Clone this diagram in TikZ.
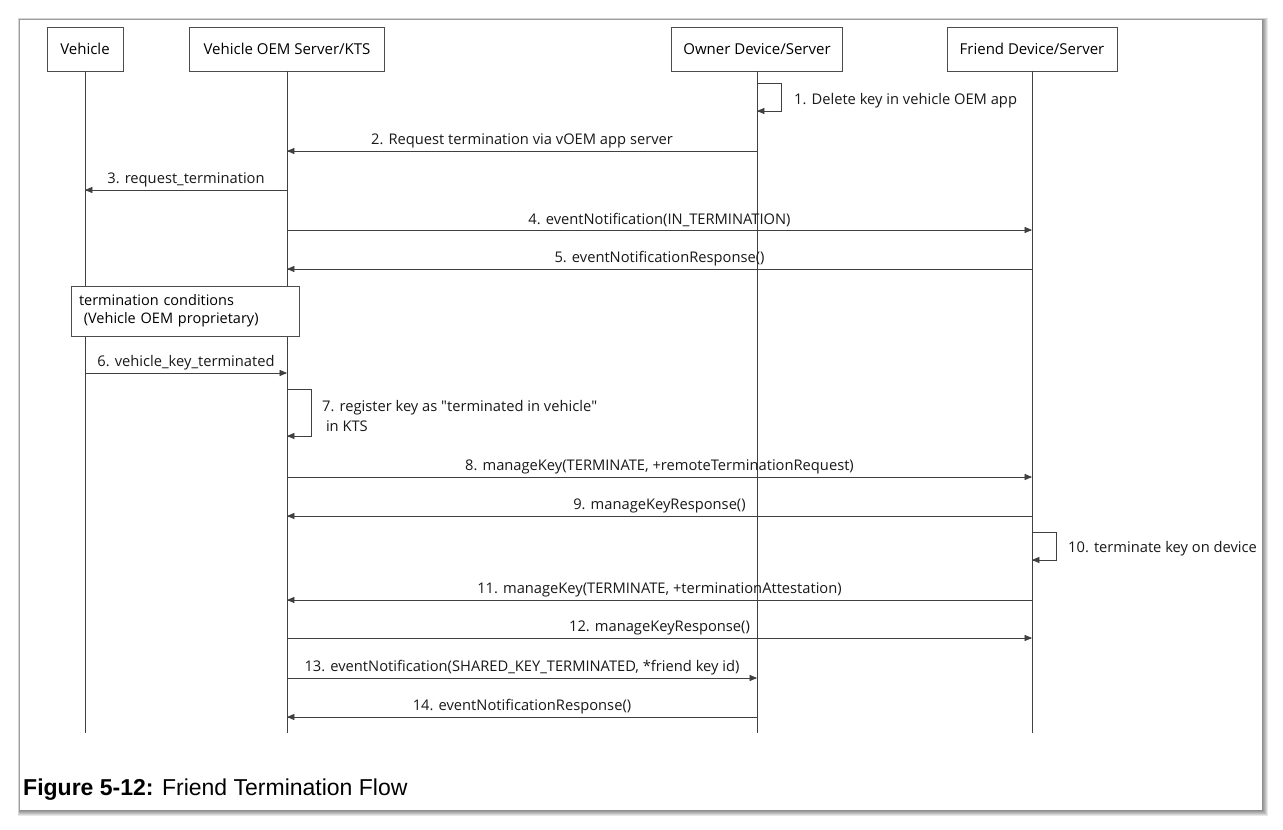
\documentclass[tikz,border=0pt]{standalone}
\usepackage{fontspec}
\setmainfont{Open Sans}
\newfontfamily\capfont{Liberation Sans}
\usetikzlibrary{arrows}

\begin{document}
\begin{tikzpicture}[x=1pt,y=-1pt,
  actor/.style={draw=black!70,fill=white,minimum height=44pt,font=\fontsize{15}{17}\selectfont},
  life/.style={black!75,line width=0.9pt},
  msg/.style={->,>=triangle 45,black!75,line width=0.7pt},
  lbl/.style={font=\fontsize{14.7}{17}\selectfont,text=black!90,inner sep=1pt},
  note/.style={draw=black!70,fill=white,minimum width=228pt,minimum height=50pt,
    text width=212pt,align=left,inner sep=8pt,font=\fontsize{14.5}{18}\selectfont}]
\useasboundingbox[fill=white] (0,0) rectangle (1283,830);
% panel with soft shadow
\foreach \s in {6,5,4,3,2,1}
  \fill[black,opacity=0.09] (20-\s/3,20-\s/3) rectangle (1262+\s,810+\s);
\fill[white] (20,20) rectangle (1262,810);
% heads
\node[actor,minimum width=76pt] (veh) at (85,49) {Vehicle};
\node[actor,minimum width=195pt] (kts) at (287,49) {Vehicle OEM Server/KTS};
\node[actor,minimum width=171pt] (own) at (757,49) {Owner Device/Server};
\node[actor,minimum width=170pt] (fri) at (1032,49) {Friend Device/Server};
\coordinate (veh-end) at (85,733);
\coordinate (kts-end) at (287,733);
\coordinate (own-end) at (757,733);
\coordinate (fri-end) at (1032,733);
\draw[life] (veh) -- (veh-end);
\draw[life] (kts) -- (kts-end);
\draw[life] (own) -- (own-end);
\draw[life] (fri) -- (fri-end);
% 1
\draw[msg] (own |- 0,83) -- ++(24,0) -- ++(0,28) -- (own |- 0,111);
\node[lbl,anchor=west] (m1) at (793,101) {1. Delete key in vehicle OEM app};
% 2 - 5
\draw[msg] (own |- 0,151) -- (kts |- 0,151) node[lbl,midway,above=2pt] {2. Request termination via vOEM app server};
\draw[msg] (kts |- 0,190) -- (veh |- 0,190) node[lbl,midway,above=2pt] {3. request\_termination};
\draw[msg] (kts |- 0,230) -- (fri |- 0,230) node[lbl,midway,above=2pt] {4. eventNotification(IN\_TERMINATION)};
\draw[msg] (fri |- 0,269) -- (kts |- 0,269) node[lbl,midway,above=2pt] {5. eventNotificationResponse()};
% vehicle side
\node[note] (cond) at (185,311) {termination conditions\\\ (Vehicle OEM proprietary)};
\draw[msg] (veh |- 0,373) -- (kts |- 0,373) node[lbl,midway,above=2pt] {6. vehicle\_key\_terminated};
% 7
\draw[msg] (kts |- 0,389) -- ++(24,0) -- ++(0,47) -- (kts |- 0,436);
\node[lbl,anchor=west,align=left,font=\fontsize{14.7}{20}\selectfont] (m7) at (321,416) {7. register key as \textquotedbl terminated in vehicle\textquotedbl\\\ in KTS};
% 8 - 9
\draw[msg] (kts |- 0,477) -- (fri |- 0,477) node[lbl,midway,above=2pt] {8. manageKey(TERMINATE, +remoteTerminationRequest)};
\draw[msg] (fri |- 0,516) -- (kts |- 0,516) node[lbl,midway,above=2pt] {9. manageKeyResponse()};
% 10
\draw[msg] (fri |- 0,532) -- ++(24,0) -- ++(0,28) -- (fri |- 0,560);
\node[lbl,anchor=west] (m10) at (1067,549) {10. terminate key on device};
% 11 - 14
\draw[msg] (fri |- 0,600) -- (kts |- 0,600) node[lbl,midway,above=2pt] {11. manageKey(TERMINATE, +terminationAttestation)};
\draw[msg] (kts |- 0,638) -- (fri |- 0,638) node[lbl,midway,above=2pt] {12. manageKeyResponse()};
\draw[msg] (kts |- 0,678) -- (own |- 0,678) node[lbl,midway,above=2pt] {13. eventNotification(SHARED\_KEY\_TERMINATED, *friend key id)};
\draw[msg] (own |- 0,717) -- (kts |- 0,717) node[lbl,midway,above=2pt] {14. eventNotificationResponse()};
% caption
\node[anchor=west,inner sep=0pt,font=\capfont\fontsize{23}{25}\selectfont] (cap) at (23,790) {\textbf{Figure 5-12:} Friend Termination Flow};
\end{tikzpicture}
\end{document}
